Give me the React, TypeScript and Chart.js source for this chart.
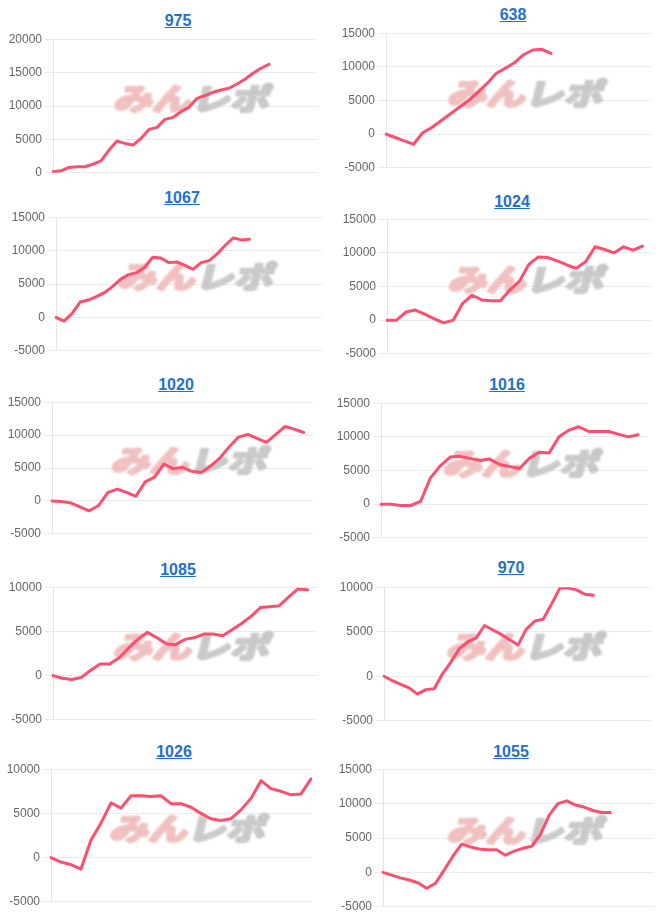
import React, { useEffect, useRef } from 'react';
import { Chart, registerables } from 'chart.js';

Chart.register(...registerables);

// ---- data ----
const TITLES = ['975', '638', '1067', '1024', '1020', '1016', '1085', '970', '1026', '1055'];

const DAYS = ['1', '2', '3', '4', '5', '6', '7', '8', '9', '10', '11', '12', '13', '14', '15', '16', '17',
  '18', '19', '20', '21', '22', '23', '24', '25', '26', '27', '28', '29', '30', '31', '32', '33', '34'];

// number of x categories shown in each chart
const SLOTS = [34, 30, 34, 29, 29, 28, 29, 33, 27, 32];

const Y_MIN = [0, -5000, -5000, -5000, -5000, -5000, -5000, -5000, -5000, -5000];
const Y_MAX = [20000, 15000, 15000, 15000, 15000, 15000, 10000, 10000, 10000, 15000];
const Y_STEP = 5000;

const S975 = [150, 300, 800, 900, 900, 1300, 1800, 3400, 4750, 4400, 4150, 5150, 6500, 6800, 8000, 8300,
  9150, 9800, 11150, 11550, 12050, 12400, 12650, 13300, 14000, 14900, 15650, 16250];
const S638 = [0, -500, -1000, -1500, 200, 1000, 2000, 3000, 4000, 5000, 6200, 7500, 9000, 9800, 10600,
  11800, 12500, 12600, 12000];
const S1067 = [0, -550, 600, 2300, 2600, 3100, 3700, 4600, 5700, 6400, 6700, 7500, 9000, 8900, 8200, 8300,
  7800, 7200, 8200, 8500, 9500, 10800, 11900, 11600, 11700];
const S1024 = [0, 0, 1200, 1500, 900, 200, -400, 0, 2500, 3700, 3000, 2900, 2900, 4500, 5800, 8300, 9400,
  9300, 8800, 8200, 7700, 8700, 10900, 10500, 10000, 10900, 10400, 11000];
const S1020 = [0, -100, -300, -900, -1500, -700, 1300, 1800, 1300, 700, 2900, 3600, 5600, 4900, 5100, 4500,
  4300, 5300, 6500, 8200, 9700, 10100, 9500, 8900, 10100, 11300, 10900, 10400];
const S1016 = [0, 0, -200, -200, 400, 3900, 5700, 7000, 7100, 6800, 6500, 6700, 5900, 5600, 5300, 6800,
  7700, 7600, 10000, 11000, 11500, 10800, 10800, 10800, 10400, 10000, 10300];
const S1085 = [0, -300, -450, -200, 600, 1300, 1300, 2000, 3100, 4100, 4900, 4300, 3600, 3500, 4100, 4300,
  4700, 4700, 4500, 5200, 5900, 6700, 7700, 7800, 7900, 8900, 9800, 9700];
const S970 = [0, -500, -900, -1300, -2000, -1500, -1400, 300, 1600, 3100, 3850, 4300, 5700, 5200, 4700,
  4100, 3500, 5300, 6200, 6400, 8100, 9900, 9900, 9700, 9200, 9100];
const S1026 = [0, -500, -800, -1300, 2000, 3900, 6200, 5600, 7000, 7000, 6900, 7000, 6100, 6100, 5700,
  5000, 4400, 4200, 4400, 5400, 6700, 8700, 7800, 7500, 7100, 7200, 8900];
const S1055 = [0, -400, -800, -1100, -1500, -2300, -1600, 350, 2350, 4100, 3700, 3400, 3300, 3300, 2500,
  3100, 3500, 3800, 5500, 8300, 10000, 10400, 9800, 9500, 9000, 8700, 8700];

const SERIES = [S975, S638, S1067, S1024, S1020, S1016, S1085, S970, S1026, S1055];

// ---- layout (page pixels) ----
const PLOT_L = [53, 386, 56, 387, 52, 381, 53, 384, 51, 383];
const PLOT_R = [317, 652, 322, 652, 313, 648, 317, 652, 311, 654];
const PLOT_T = [39, 33, 217, 219, 402, 403, 587, 587, 769, 769];
const PLOT_B = [173, 168, 351, 354, 534, 538, 720, 721, 902, 907];
const TITLE_X = [178, 513, 182, 512, 176, 507, 178, 511, 174, 511];
const TITLE_Y = [21, 15, 198, 202, 385, 385, 570, 568, 752, 752];

const AXIS_W = 45;
const PAD_V = 10;
const PAD_R = 2;
const LINE_COLOR = '#ff4d6d';

const watermarkPlugin = {
  id: 'watermark',
  beforeDatasetsDraw(chart: any) {
    const { ctx, chartArea } = chart;
    const cx = (chartArea.left + chartArea.right) / 2 + 9;
    const cy = (chartArea.top + chartArea.bottom) / 2 - 9;
    ctx.save();
    ctx.filter = 'blur(0.8px)';
    ctx.font = 'bold 30px "Noto Sans CJK JP"';
    ctx.textBaseline = 'middle';
    ctx.textAlign = 'left';
    ctx.lineJoin = 'round';
    const a = 'みん';
    const b = 'レポ';
    const wa = ctx.measureText(a).width;
    const wb = ctx.measureText(b).width;
    const total = wa + wb;
    const sx = 156 / total;
    ctx.translate(cx, cy);
    ctx.transform(sx, 0, -0.25, 1, 0, 0);
    ctx.lineWidth = 2.5;
    ctx.fillStyle = 'rgb(240, 190, 190)';
    ctx.strokeStyle = 'rgb(240, 190, 190)';
    ctx.strokeText(a, -total / 2, 2);
    ctx.fillText(a, -total / 2, 2);
    ctx.fillStyle = 'rgb(200, 200, 200)';
    ctx.strokeStyle = 'rgb(200, 200, 200)';
    ctx.strokeText(b, -total / 2 + wa, 2);
    ctx.fillText(b, -total / 2 + wa, 2);
    ctx.restore();
  },
};

function MiniChart({ idx }: { idx: number }) {
  const ref = useRef<HTMLCanvasElement | null>(null);
  const left = PLOT_L[idx] - AXIS_W;
  const width = PLOT_R[idx] - left + PAD_R;
  const top = PLOT_T[idx] - PAD_V;
  const height = PLOT_B[idx] - PLOT_T[idx] + 2 * PAD_V;

  useEffect(() => {
    if (!ref.current) return;
    const labels = DAYS.slice(0, SLOTS[idx]);
    const chart = new Chart(ref.current, {
      type: 'line',
      data: {
        labels,
        datasets: [
          {
            data: SERIES[idx],
            borderColor: LINE_COLOR,
            backgroundColor: LINE_COLOR,
            borderWidth: 3,
            pointRadius: 0,
            pointHoverRadius: 0,
            tension: 0,
            borderJoinStyle: 'round',
            borderCapStyle: 'round',
            fill: false,
          },
        ],
      },
      options: {
        animation: false,
        responsive: false,
        devicePixelRatio: 1,
        layout: { padding: { left: 0, right: PAD_R, top: PAD_V, bottom: PAD_V } },
        plugins: { legend: { display: false }, tooltip: { enabled: false }, title: { display: false } },
        scales: {
          x: { display: false },
          y: {
            min: Y_MIN[idx],
            max: Y_MAX[idx],
            ticks: {
              stepSize: Y_STEP,
              color: '#666',
              font: { size: 12, family: 'Arial, "Liberation Sans", sans-serif' },
              padding: 3,
              callback: (v: any) => String(v),
            },
            grid: { color: 'rgba(0,0,0,0.08)', tickLength: 8 },
            border: { color: 'rgba(0,0,0,0.1)' },
            afterFit(scale: any) {
              scale.width = AXIS_W;
            },
          },
        },
      },
      plugins: [watermarkPlugin],
    });
    return () => chart.destroy();
  }, [idx]);

  return (
    <>
      <div
        style={{
          position: 'absolute',
          left: TITLE_X[idx] - 60,
          top: TITLE_Y[idx] - 10,
          width: 120,
          height: 20,
          lineHeight: '20px',
          textAlign: 'center',
          fontFamily: 'Arial, "Liberation Sans", sans-serif',
          fontSize: 16,
          fontWeight: 'bold',
        }}
      >
        <a href="#" style={{ color: '#1f6fd6', textDecoration: 'underline' }}>
          {TITLES[idx]}
        </a>
      </div>
      <canvas
        ref={ref}
        width={width}
        height={height}
        style={{ position: 'absolute', left, top, width, height }}
      />
    </>
  );
}

export default function App() {
  return (
    <div>
      {TITLES.map((_, i) => (
        <MiniChart key={i} idx={i} />
      ))}
    </div>
  );
}
